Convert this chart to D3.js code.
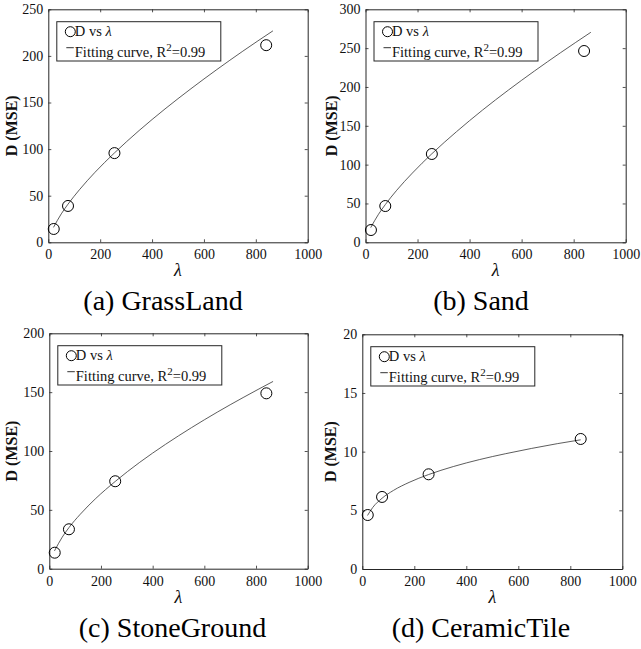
<!DOCTYPE html>
<html><head><meta charset="utf-8">
<script src="https://cdn.jsdelivr.net/npm/d3@7"></script>
<style>
html,body{margin:0;padding:0;background:#fff;}
svg{display:block;font-family:"Liberation Serif","Times New Roman",serif;}
svg text{font-family:"Liberation Serif","Times New Roman",serif;}
</style></head>
<body><svg id="c" width="641" height="649"></svg>
<script>
// ---- data ----
const lambdaValues = [21, 76, 255, 840];
const grassD   = [14.3, 39, 95.7, 211.5];
const sandD    = [15.8, 46.7, 113.7, 246.3];
const stoneD   = [13.6, 33.5, 74.3, 149];
const ceramicD = [4.6, 6.14, 8.07, 11.08];

const fitX       = [20, 50, 76, 120, 180, 255, 350, 450, 550, 650, 750, 866];
const grassFit   = [16.0, 30.5, 40.9, 56.4, 75.1, 95.9, 119.9, 143.1, 164.8, 185.4, 205.1, 226.9];
const sandFit    = [18.9, 36.1, 48.5, 67.0, 89.1, 114.0, 142.5, 170.3, 196.2, 220.7, 244.2, 270.4];
const stoneFit   = [15.1, 26.8, 34.9, 46.3, 59.7, 74.1, 90.4, 105.7, 119.8, 133.0, 145.4, 159.1];
const ceramicFitX = [20, 40, 76, 120, 180, 255, 350, 450, 550, 650, 750, 840];
const ceramicFit  = [4.56, 5.24, 6.03, 6.70, 7.38, 8.05, 8.73, 9.32, 9.82, 10.27, 10.68, 11.01];

const xTicks = [0, 200, 400, 600, 800, 1000];
const yTicksGrass   = [0, 50, 100, 150, 200, 250];
const yTicksSand    = [0, 50, 100, 150, 200, 250, 300];
const yTicksStone   = [0, 50, 100, 150, 200];
const yTicksCeramic = [0, 5, 10, 15, 20];

const captions = ["(a) GrassLand", "(b) Sand", "(c) StoneGround", "(d) CeramicTile"];
const legendPoints = "D vs ";
const legendFit = "Fitting curve, R";
const r2Text = "=0.99";

// ---- layout ----
const panels = [
  {box:[48.3, 9.3, 307.7, 242.3], y:yTicksGrass, d:grassD, fx:fitX, fy:grassFit, cap:captions[0], capX:163, capY:310, ylx:-31},
  {box:[365.5, 9.3, 625.7, 242.3], y:yTicksSand, d:sandD, fx:fitX, fy:sandFit, cap:captions[1], capX:481, capY:310, ylx:-29},
  {box:[49.3, 333.3, 307.7, 568.7], y:yTicksStone, d:stoneD, fx:fitX, fy:stoneFit, cap:captions[2], capX:172.5, capY:637, ylx:-32},
  {box:[362.3, 334.3, 622.3, 569], y:yTicksCeramic, d:ceramicD, fx:ceramicFitX, fy:ceramicFit, cap:captions[3], capX:481, capY:637, ylx:-26}
];

const svg = d3.select("#c");
svg.append("rect").attr("width",641).attr("height",649).attr("fill","#fff");
const axisColor = "#262626";
const tickLen = 3;
const serif = '"Liberation Serif","Times New Roman",serif';

panels.forEach(p => {
  const [x0,y0,x1,y1] = p.box;
  const x = d3.scaleLinear().domain([0,1000]).range([x0,x1]);
  const y = d3.scaleLinear().domain([0, d3.max(p.y)]).range([y1,y0]);
  const g = svg.append("g");

  // axes
  const xb = g.append("g").attr("transform",`translate(0,${y1})`)
    .call(d3.axisBottom(x).tickValues(xTicks).tickSizeInner(-tickLen).tickSizeOuter(0).tickPadding(5).tickFormat(d3.format("d")));
  const xt = g.append("g").attr("transform",`translate(0,${y0})`)
    .call(d3.axisTop(x).tickValues(xTicks).tickSizeInner(-tickLen).tickSizeOuter(0).tickFormat(""));
  const yl = g.append("g").attr("transform",`translate(${x0},0)`)
    .call(d3.axisLeft(y).tickValues(p.y).tickSizeInner(-tickLen).tickSizeOuter(0).tickPadding(5).tickFormat(d3.format("d")));
  const yr = g.append("g").attr("transform",`translate(${x1},0)`)
    .call(d3.axisRight(y).tickValues(p.y).tickSizeInner(-tickLen).tickSizeOuter(0).tickFormat(""));
  [xb,xt,yl,yr].forEach(a => {
    a.attr("font-family", serif).attr("font-size", 14);
    a.select(".domain").attr("stroke",axisColor).attr("stroke-width",1);
    a.selectAll(".tick line").attr("stroke",axisColor).attr("stroke-width",0.8);
    a.selectAll(".tick text").attr("fill","#111").style("font-family",serif).style("font-size","14px");
  });
  xb.selectAll(".tick text").attr("dy","0.85em");

  // fit curve
  const line = d3.line().x((d,i)=>x(p.fx[i])).y(d=>y(d)).curve(d3.curveMonotoneX);
  g.append("path").datum(p.fy).attr("d",line).attr("fill","none")
    .attr("stroke","#333").attr("stroke-width",0.8);

  // points
  g.selectAll("circle.pt").data(p.d).join("circle").attr("class","pt")
    .attr("cx",(d,i)=>x(lambdaValues[i])).attr("cy",d=>y(d)).attr("r",5.5)
    .attr("fill","none").attr("stroke","#000").attr("stroke-width",1);

  // legend
  const lx = x0 + 8.5, ly = y0 + 12.4;
  const lg = g.append("g").attr("transform",`translate(${lx},${ly})`);
  lg.append("rect").attr("width",164).attr("height",39.3).attr("fill","#fff")
    .attr("stroke",axisColor).attr("stroke-width",1);
  lg.append("circle").attr("cx",13.5).attr("cy",10).attr("r",5).attr("fill","none").attr("stroke","#000").attr("stroke-width",1);
  const t1 = lg.append("text").attr("x",18).attr("y",14.5).style("font-size","14.5px").attr("fill","#111");
  t1.append("tspan").text(legendPoints);
  t1.append("tspan").style("font-style","italic").text("λ");
  lg.append("line").attr("x1",9.5).attr("x2",17).attr("y1",26).attr("y2",26).attr("stroke","#333").attr("stroke-width",1);
  const t2 = lg.append("text").attr("x",18).attr("y",35).style("font-size","14.5px").attr("fill","#111");
  t2.append("tspan").text(legendFit);
  t2.append("tspan").attr("dy",-6).style("font-size","11px").text("2");
  t2.append("tspan").attr("dy",6).text(r2Text);

  // axis labels
  g.append("text").attr("transform",`translate(${x0+p.ylx},${(y0+y1)/2}) rotate(-90)`)
    .attr("text-anchor","middle").style("font-size","16px").style("font-weight","bold").attr("fill","#111")
    .text("D (MSE)");
  g.append("text").attr("x",(x0+x1)/2).attr("y",y1+34).attr("text-anchor","middle")
    .style("font-size","18px").style("font-style","italic").attr("fill","#111").text("λ");

  // caption
  g.append("text").attr("x",p.capX).attr("y",p.capY).attr("text-anchor","middle")
    .style("font-size","28px").attr("fill","#000").text(p.cap);
});
</script></body></html>
